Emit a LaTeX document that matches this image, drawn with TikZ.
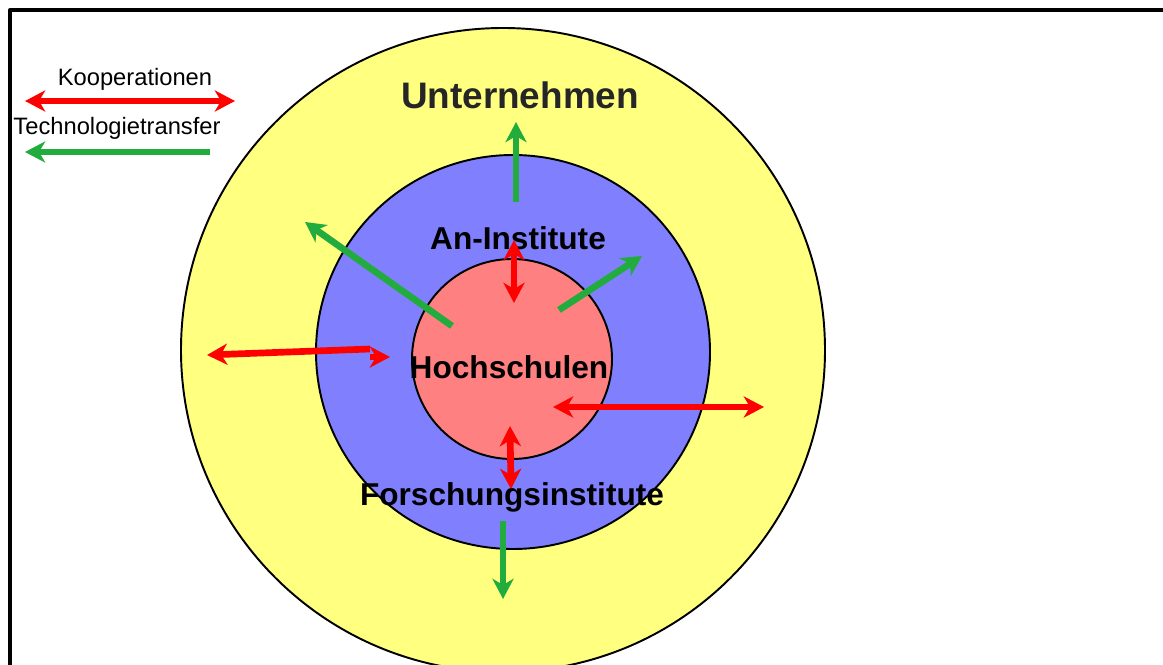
\documentclass[tikz,border=0pt]{standalone}
\usepackage{fontspec}
\setmainfont{Liberation Sans}
\usetikzlibrary{arrows.meta}
\definecolor{gelb}{HTML}{FFFF80}
\definecolor{blau}{HTML}{8080FF}
\definecolor{rosa}{HTML}{FF8080}
\definecolor{rot}{HTML}{FF0000}
\definecolor{gruen}{HTML}{22AC3E}
\tikzset{
  every picture/.style={line join=round, >={Stealth[length=11.5pt,width=12pt,inset=3.5pt]}},
  koop/.style={draw=rot, line width=3.8pt},
  transfer/.style={draw=gruen, line width=3.8pt},
  ring/.style={draw=black, line width=1.1pt},
  titel/.style={font=\bfseries\fontsize{18}{20}\selectfont},
  legende/.style={font=\fontsize{13.5}{15}\selectfont},
}

\begin{document}
\begin{tikzpicture}[x=0.02cm,y=-0.02cm]
\clip(0,0)rectangle(1163,665);
\draw[line width=1.9pt](10,10)rectangle(1180,690);
% Kreise
\filldraw[ring,fill=gelb](503,350)circle[radius=322];
\filldraw[ring,fill=blau](513,352)circle[radius=197];
\filldraw[ring,fill=rosa](512,359)circle[radius=100];
% Beschriftung
\node[font=\bfseries\fontsize{21}{24}\selectfont,text=black!85](unt)at(520,95){Unternehmen};
\node[titel](an)at(518,238){An-Institute};
\node[titel](hs)at(509,367){Hochschulen};
\node[titel](fi)at(512,497){Forschungsinstitute};
% Legende
\node[legende](lk)at(135,79){Kooperationen};
\node[legende](lt)at(117,128){Technologietransfer};
\draw[koop,<->](25,101)--(235,101);
\draw[transfer,->](210,152)--(25,152);
% Technologietransfer
\draw[transfer,->](516,202)--(516,122);
\draw[transfer,->](452,326)--(305,222);
\draw[transfer,->](559,310)--(642,256);
\draw[transfer,->](503,521)--(503,599);
% Kooperationen
\draw[koop,<->](514,240)--(514,303);
\draw[koop,<->](510,426)--(511,489);
\draw[koop,<->](553,407)--(764,407);
\draw[koop,<-](207,355)--(370,349);
\draw[koop,->](370,357)--(390,357);
\end{tikzpicture}
\end{document}
